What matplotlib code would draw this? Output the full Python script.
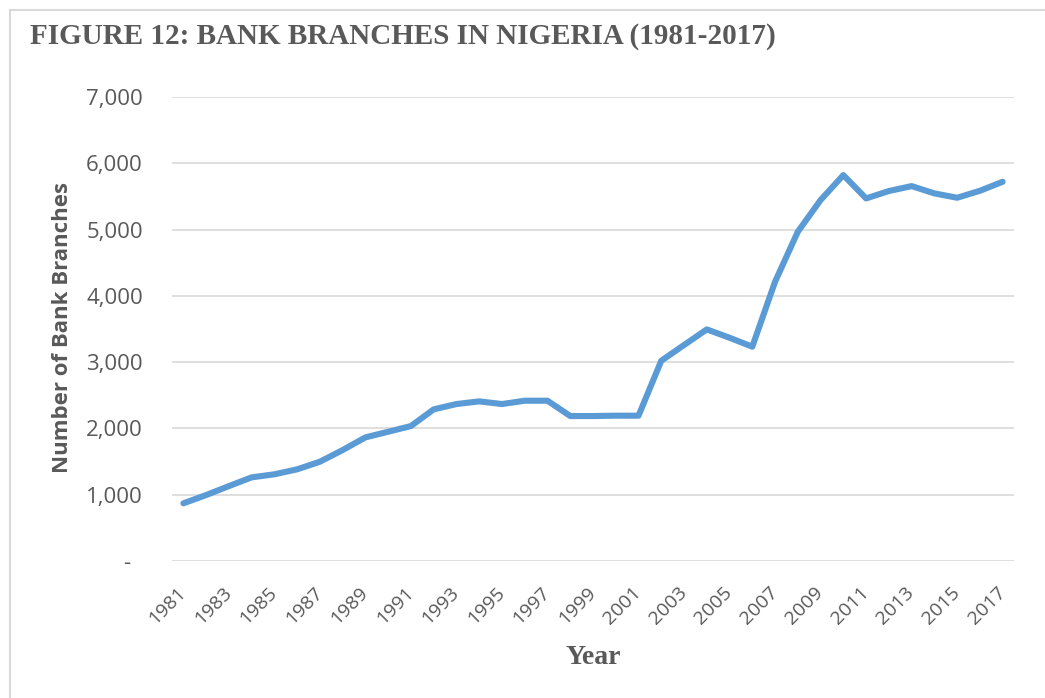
import matplotlib.pyplot as plt
from matplotlib.patches import Rectangle
from matplotlib.ticker import FixedLocator, FuncFormatter

#------------------------------------------------------------------------------
# Bank branches in Nigeria, 1981-2017
years = list(range(1981, 2018))
branches = [870, 995, 1130, 1262, 1308, 1383, 1498, 1674, 1865, 1950,
            2036, 2288, 2368, 2408, 2368, 2418, 2418, 2187, 2187, 2192,
            2192, 3021, 3258, 3494, 3368, 3233, 4213, 4967, 5445, 5822,
            5470, 5581, 5656, 5546, 5480, 5585, 5721]
y_ticks = [0, 1000, 2000, 3000, 4000, 5000, 6000, 7000]

title = 'FIGURE 12: BANK BRANCHES IN NIGERIA (1981-2017)'
line_color = '#5B9BD5'
text_color = '#595959'
grid_color = '#D9D9D9'
sans = ['Open Sans', 'DejaVu Sans']
serif = ['Liberation Serif', 'DejaVu Serif']


def thousands(v, pos):
    # accounting style: zero shown as a dash
    if v == 0:
        return '-  '
    return f'{int(v):,}'


W, H = 1045, 698
fig = plt.figure(figsize=(W / 100, H / 100), dpi=100)

# chart area border
fig.patches.append(Rectangle((10 / W, -0.1), 1.2, 1 - 10 / H + 0.1,
                             transform=fig.transFigure, fill=False,
                             edgecolor=grid_color, linewidth=1.5))

ax = fig.add_axes([172 / W, (H - 561) / H, 842 / W, 464 / H])
x = list(range(len(years)))
ax.plot(x, branches, color=line_color, linewidth=4.4,
        solid_joinstyle='round', solid_capstyle='round', zorder=3)

ax.set_xlim(-0.5, len(years) - 0.5)
ax.set_ylim(0, 7000)
ax.yaxis.set_major_locator(FixedLocator(y_ticks))
ax.yaxis.set_major_formatter(FuncFormatter(thousands))
ax.grid(axis='y', color=grid_color, linewidth=1.2, zorder=0)
for s in ax.spines.values():
    s.set_visible(False)

tick_pos = x[::2]
ax.set_xticks(tick_pos)
ax.set_xticklabels([str(years[i]) for i in tick_pos], rotation=45,
                   ha='right', va='center', rotation_mode='anchor',
                   family=sans, fontsize=14, color=text_color)
ax.tick_params(axis='x', length=0, pad=21)
ax.tick_params(axis='y', length=0, pad=21, labelsize=16,
               labelcolor=text_color)
for lab in ax.get_yticklabels():
    lab.set_family(sans)

# axis titles
fig.text(63 / W, 1 - 328 / H, 'Number of Bank Branches', family=sans,
         fontsize=16, fontweight='bold', color=text_color, rotation=90,
         ha='center', va='center')
fig.text(593 / W, 1 - 657 / H, 'Year', family=serif, fontsize=20,
         fontweight='bold', color=text_color, ha='center', va='center')

fig.text(30 / W, 1 - 36 / H, title, family=serif, fontsize=21,
         fontweight='bold', color=text_color, ha='left', va='center')

fig.savefig('out.png', dpi=100)
